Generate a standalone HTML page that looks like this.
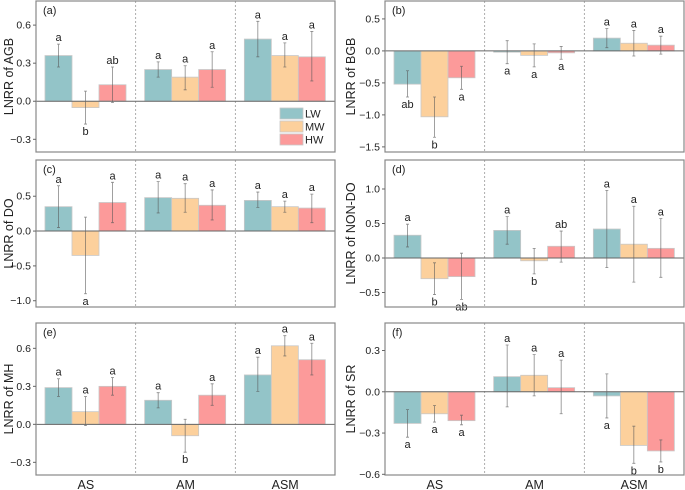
<!DOCTYPE html>
<html><head><meta charset="utf-8"><style>
html,body{margin:0;padding:0;background:#fff}
svg{display:block;font-family:"Liberation Sans",Arial,sans-serif}
</style></head><body>
<svg id="chart" width="685" height="490" viewBox="0 0 685 490" xmlns="http://www.w3.org/2000/svg"></svg>
<script>
const groups = ["AS","AM","ASM"];
const series = ["LW","MW","HW"];
const colors = ["#93c4c8","#fcd09c","#fc9a9a"];
const aMean=[[0.36,-0.05,0.13],[0.25,0.19,0.25],[0.49,0.36,0.35]];
const aLo=[[0.27,-0.18,-0.01],[0.19,0.09,0.11],[0.35,0.27,0.16]];
const aHi=[[0.45,0.08,0.27],[0.31,0.28,0.39],[0.63,0.46,0.55]];
const aLab=[["a","b","ab"],["a","a","a"],["a","a","a"]];
const bMean=[[-0.52,-1.03,-0.42],[-0.02,-0.07,-0.03],[0.20,0.12,0.09]];
const bLo=[[-0.72,-1.35,-0.60],[-0.20,-0.25,-0.13],[0.05,-0.08,-0.05]];
const bHi=[[-0.31,-0.72,-0.24],[0.16,0.11,0.07],[0.35,0.32,0.23]];
const bLab=[["ab","b","a"],["a","a","a"],["a","a","a"]];
const cMean=[[0.35,-0.35,0.41],[0.48,0.47,0.37],[0.44,0.35,0.33]];
const cLo=[[0.05,-0.90,0.12],[0.26,0.27,0.16],[0.34,0.27,0.12]];
const cHi=[[0.65,0.20,0.70],[0.71,0.68,0.59],[0.56,0.43,0.53]];
const cLab=[["a","a","a"],["a","a","a"],["a","a","a"]];
const dMean=[[0.33,-0.30,-0.27],[0.40,-0.04,0.17],[0.42,0.20,0.14]];
const dLo=[[0.16,-0.53,-0.60],[0.20,-0.23,-0.06],[-0.14,-0.35,-0.28]];
const dHi=[[0.49,-0.07,0.07],[0.60,0.14,0.39],[0.98,0.75,0.57]];
const dLab=[["a","b","ab"],["a","b","ab"],["a","a","a"]];
const eMean=[[0.29,0.10,0.30],[0.19,-0.09,0.23],[0.39,0.62,0.51]];
const eLo=[[0.22,-0.01,0.23],[0.13,-0.22,0.15],[0.26,0.54,0.39]];
const eHi=[[0.36,0.22,0.37],[0.25,0.04,0.32],[0.53,0.70,0.64]];
const eLab=[["a","a","a"],["a","b","a"],["a","a","a"]];
const fMean=[[-0.23,-0.16,-0.21],[0.11,0.12,0.03],[-0.03,-0.39,-0.43]];
const fLo=[[-0.33,-0.22,-0.24],[-0.11,-0.03,-0.16],[-0.19,-0.52,-0.51]];
const fHi=[[-0.13,-0.10,-0.17],[0.34,0.27,0.23],[0.13,-0.25,-0.35]];
const fLab=[["a","a","a"],["a","a","a"],["a","b","b"]];
const aTicks=[0.6,0.3,0.0,-0.3], bTicks=[0.5,0.0,-0.5,-1.0,-1.5], cTicks=[0.5,0.0,-0.5,-1.0];
const dTicks=[1.0,0.5,0.0,-0.5], eTicks=[0.6,0.3,0.0,-0.3], fTicks=[0.3,0.0,-0.3,-0.6];

const panels=[
 {id:"a",title:"LNRR of AGB",x0:36,x1:335,y0:1,y1:152,max:0.79,min:-0.40,m:aMean,lo:aLo,hi:aHi,lab:aLab,ticks:aTicks,toff:23,below:[[0,1,0],[0,0,0],[0,0,0]]},
 {id:"b",title:"LNRR of BGB",x0:385,x1:684,y0:1,y1:152,max:0.78,min:-1.58,m:bMean,lo:bLo,hi:bHi,lab:bLab,ticks:bTicks,toff:30,below:[[1,1,1],[1,1,1],[0,0,0]]},
 {id:"c",title:"LNRR of DO",x0:36,x1:335,y0:160,y1:307,max:1.02,min:-1.09,m:cMean,lo:cLo,hi:cHi,lab:cLab,ticks:cTicks,toff:23,below:[[0,1,0],[0,0,0],[0,0,0]]},
 {id:"d",title:"LNRR of NON-DO",x0:385,x1:684,y0:160,y1:307,max:1.42,min:-0.71,m:dMean,lo:dLo,hi:dHi,lab:dLab,ticks:dTicks,toff:30,below:[[0,1,1],[0,1,0],[0,0,0]]},
 {id:"e",title:"LNRR of MH",x0:36,x1:335,y0:323,y1:475,max:0.80,min:-0.40,m:eMean,lo:eLo,hi:eHi,lab:eLab,ticks:eTicks,toff:23,below:[[0,0,0],[0,1,0],[0,0,0]]},
 {id:"f",title:"LNRR of SR",x0:385,x1:684,y0:323,y1:475,max:0.50,min:-0.605,m:fMean,lo:fLo,hi:fHi,lab:fLab,ticks:fTicks,toff:30,below:[[1,1,1],[0,0,0],[1,1,1]]}
];
const NS="http://www.w3.org/2000/svg";
const svg=document.getElementById("chart");
function mk(tag,attrs,parent,text){const e=document.createElementNS(NS,tag);for(const k in attrs)e.setAttribute(k,attrs[k]);if(text!==undefined)e.textContent=text;(parent||svg).appendChild(e);return e;}
function fmt(v){const s=v.toFixed(1);return v<0?"\u2212"+s.slice(1):s;}
panels.forEach(p=>{
 const g=mk("g",{});
 
 
 const y=v=>p.y0+(p.max-v)/(p.max-p.min)*(p.y1-p.y0);
 const gw=(p.x1-p.x0)/3;
 for(let i=1;i<3;i++){const l=mk("line",{x1:p.x0+gw*i,x2:p.x0+gw*i,y1:p.y0,y2:p.y1,stroke:"#999","stroke-dasharray":"2,2","stroke-width":0.8},g);
  
  }
 for(let gi=0;gi<3;gi++)for(let si=0;si<3;si++){
  const v=p.m[gi][si];const bx=p.x0+gw*gi+9+27*si;
  const r=mk("rect",{x:bx,y:Math.min(y(v),y(0)),width:27,height:Math.abs(y(v)-y(0)),fill:colors[si],stroke:"#c8c8c8","stroke-width":0.8},g);
  
  
  const cx=bx+13.5, yl=y(p.lo[gi][si]), yh=y(p.hi[gi][si]);
  const eb=mk("path",{d:`M${cx},${yl}V${yh}M${cx-1.5},${yl}H${cx+1.5}M${cx-1.5},${yh}H${cx+1.5}`,stroke:"#555","stroke-width":0.8,fill:"none","stroke-opacity":0.7},g);
  
  
  const below=p.below[gi][si];
  const t=mk("text",{x:cx,y:below?yl+11:yh-3,"text-anchor":"middle","font-size":11,fill:"#222"},g,p.lab[gi][si]);
  
  
 }
 const z=mk("line",{x1:p.x0,x2:p.x1,y1:y(0),y2:y(0),stroke:"#666","stroke-width":1},g);
 
 
 const fr=mk("rect",{x:p.x0,y:p.y0,width:p.x1-p.x0,height:p.y1-p.y0,fill:"none",stroke:"#888","stroke-width":1.2},g);
 
 
 p.ticks.forEach(tv=>{const ty=y(tv);
  mk("line",{x1:p.x0-3,x2:p.x0,y1:ty,y2:ty,stroke:"#666"},g);
  const tl=mk("text",{x:p.x0-5,y:ty+3.5,"text-anchor":"end","font-size":10.5,fill:"#222"},g,fmt(tv));
  
  });
 const yc=(p.y0+p.y1)/2;
 const tt=mk("text",{x:0,y:0,transform:`translate(${p.x0-p.toff},${yc}) rotate(-90)`,"text-anchor":"middle","font-size":12.5,fill:"#222"},g,p.title);
 
 
 const pl=mk("text",{x:p.x0+7,y:p.y0+13,"font-size":11,fill:"#222"},g,"("+p.id+")");
 
 
 if(p.id==="e"||p.id==="f"){groups.forEach((gn,gi)=>{const xl=mk("text",{x:p.x0+gw*(gi+0.5),y:489,"text-anchor":"middle","font-size":12.5,fill:"#222"},g,gn);
  
  });}
});
const lg=mk("g",{});


series.forEach((s,i)=>{
 const r=mk("rect",{x:280,y:108+i*13,width:23,height:11,fill:colors[i],stroke:"#c8c8c8","stroke-width":0.8},lg);
 
 
 const t=mk("text",{x:305,y:117.5+i*13,"font-size":11,fill:"#222"},lg,s);
 
 
});
</script>
</body></html>
